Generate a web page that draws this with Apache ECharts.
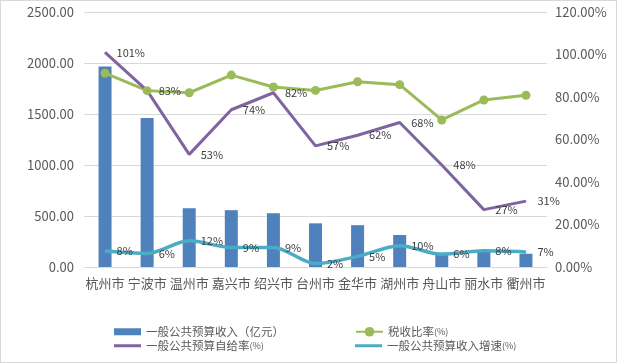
<!DOCTYPE html>
<html><head><meta charset="utf-8">
<script src="https://cdn.jsdelivr.net/npm/echarts@6/dist/echarts.min.js"></script>
<style>html,body{margin:0;padding:0;background:#fff;}#box{width:615px;height:361px;border:1px solid #d9d9d9;}#c{width:615px;height:361px;}</style>
</head><body><div id="box"><div id="c"></div></div>
<script>
const categories = ['杭州市','宁波市','温州市','嘉兴市','绍兴市','台州市','金华市','湖州市','舟山市','丽水市','衢州市'];
const revenue = [1966, 1462, 576, 557, 527, 428, 410, 314, 140, 150, 130];
const taxRate = [91.2, 83.0, 82.0, 90.3, 84.7, 83.1, 87.2, 85.8, 69.2, 78.6, 80.8];
const selfRate = [101, 83, 53, 74, 82, 57, 62, 68, 48, 27, 31];
const growth = [7.5, 6.4, 12.3, 9.2, 9.2, 1.6, 5, 10, 6, 7.6, 7.1];
const leftTicks = [0, 500, 1000, 1500, 2000, 2500];
const rightTicks = [0, 20, 40, 60, 80, 100, 120];

const FONT = '"Noto Sans CJK SC", "Noto Sans", sans-serif';
const chart = echarts.init(document.getElementById('c'));
const lbl = {show: true, position: 'right', distance: 11, fontSize: 11, color: '#404040', fontFamily: FONT, formatter: p => p.value.toFixed(0) + '%'};
function legendAt(name, left, top, main, small, icon, h, color) {
  const d = {name: name};
  if (icon) d.icon = icon;
  if (color) d.itemStyle = {color: color, opacity: 1};
  return {data: [d], left: left, top: top, padding: 0, itemWidth: 27, itemHeight: h, itemGap: 0,
    selectedMode: false,
    textStyle: {fontFamily: FONT, color: '#595959', rich: {a: {fontSize: 11.5, color: '#595959', fontFamily: FONT}, b: {fontSize: 9, color: '#595959', fontFamily: FONT}}},
    formatter: () => '{a|' + main + '}' + (small ? '{b|' + small + '}' : '')};
}
chart.setOption({
  animation: false,
  textStyle: {fontFamily: FONT},
  grid: {left: 83, right: 69, top: 11, bottom: 95},
  legend: [
    legendAt('一般公共预算收入（亿元）', 113, 325, '一般公共预算收入（亿元）', '', 'rect', 7),
    legendAt('税收比率(%)', 354, 325, '税收比率', '(%)', undefined, 12),
    legendAt('一般公共预算自给率(%)', 113, 339, '一般公共预算自给率', '(%)', 'rect', 3, '#8064A2'),
    legendAt('一般公共预算收入增速(%)', 354, 339, '一般公共预算收入增速', '(%)', 'rect', 3, '#4BACC6')
  ],
  xAxis: {type: 'category', data: categories, axisTick: {show: false},
    axisLine: {show: true, lineStyle: {color: '#d9d9d9'}},
    axisLabel: {fontSize: 13, color: '#595959', fontFamily: FONT, margin: 10, interval: 0}},
  yAxis: [
    {type: 'value', min: leftTicks[0], max: leftTicks[leftTicks.length - 1], interval: 500,
      axisLabel: {fontSize: 13, color: '#595959', fontFamily: FONT, margin: 10, formatter: v => v.toFixed(2)},
      splitLine: {lineStyle: {color: '#d9d9d9'}}, axisLine: {show: false}, axisTick: {show: false}},
    {type: 'value', min: rightTicks[0], max: rightTicks[rightTicks.length - 1], interval: 20, position: 'right',
      axisLabel: {fontSize: 13, color: '#595959', fontFamily: FONT, margin: 8, formatter: v => v.toFixed(2) + '%'},
      splitLine: {show: false}, axisLine: {show: false}, axisTick: {show: false}}
  ],
  series: [
    {name: '一般公共预算收入（亿元）', type: 'bar', data: revenue, barWidth: 13, itemStyle: {color: '#4F81BD'}, yAxisIndex: 0},
    {name: '税收比率(%)', type: 'line', data: taxRate, yAxisIndex: 1, symbol: 'circle', symbolSize: 9,
      lineStyle: {color: '#9BBB59', width: 3}, itemStyle: {color: '#9BBB59'}},
    {name: '一般公共预算自给率(%)', type: 'line', data: selfRate, yAxisIndex: 1, symbol: 'circle', symbolSize: 1, showSymbol: true,
      lineStyle: {color: '#8064A2', width: 3}, itemStyle: {color: '#8064A2'}, label: lbl},
    {name: '一般公共预算收入增速(%)', type: 'line', data: growth, yAxisIndex: 1, symbol: 'circle', symbolSize: 1, showSymbol: true, smooth: 0.3,
      lineStyle: {color: '#4BACC6', width: 3.5}, itemStyle: {color: '#4BACC6'}, label: lbl}
  ]
});
</script></body></html>
